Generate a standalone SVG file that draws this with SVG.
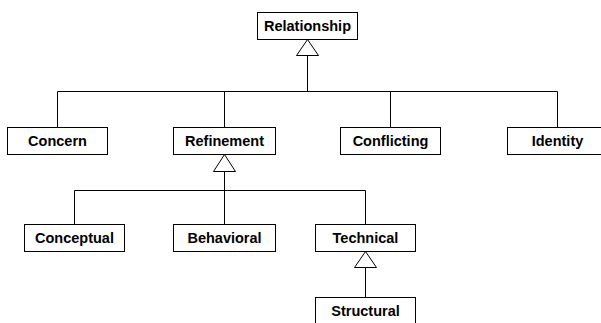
<svg xmlns="http://www.w3.org/2000/svg" width="601" height="323" viewBox="0 0 601 323">
<style>
.box{fill:#fff;stroke:#000;stroke-width:1}
.lbl{font-family:"Liberation Sans",Arial,sans-serif;font-weight:bold;font-size:14.5px;fill:#000;text-anchor:middle}
.con{fill:none;stroke:#000;stroke-width:1}
.tri{fill:#fff;stroke:#000;stroke-width:1}
</style>
<rect width="601" height="323" fill="#fff"/>
<g id="connectors">
<path class="con" d="M307.5 55.5V91.5M57.5 91.5H557.5M57.5 91.5V127.5M224.5 91.5V127.5M390.5 91.5V127.5M557.5 91.5V127.5"/>
<path class="con" d="M224.5 171.5V224.5M74.5 190.5H365.5M74.5 190.5V224.5M365.5 190.5V224.5"/>
<path class="con" d="M365.5 267.5V297.5"/>
<polygon class="tri" points="307.5,39.5 296.5,55.5 318.5,55.5"/>
<polygon class="tri" points="224.5,154.5 213.5,171.5 235.5,171.5"/>
<polygon class="tri" points="365.5,251.5 354.5,267.5 376.5,267.5"/>
</g>
<g id="relationship"><rect class="box" x="257.5" y="12.5" width="100" height="27"/><text class="lbl" x="307.5" y="31">Relationship</text></g>
<g id="concern"><rect class="box" x="7.5" y="127.5" width="100" height="27"/><text class="lbl" x="57.5" y="146">Concern</text></g>
<g id="refinement"><rect class="box" x="173.5" y="127.5" width="102" height="27"/><text class="lbl" x="224.5" y="146">Refinement</text></g>
<g id="conflicting"><rect class="box" x="340.5" y="127.5" width="100" height="27"/><text class="lbl" x="390.5" y="146">Conflicting</text></g>
<g id="identity"><rect class="box" x="507.5" y="127.5" width="100" height="27"/><text class="lbl" x="557.5" y="146">Identity</text></g>
<g id="conceptual"><rect class="box" x="24.5" y="224.5" width="100" height="27"/><text class="lbl" x="74.5" y="243">Conceptual</text></g>
<g id="behavioral"><rect class="box" x="173.5" y="224.5" width="102" height="27"/><text class="lbl" x="224.5" y="243">Behavioral</text></g>
<g id="technical"><rect class="box" x="315.5" y="224.5" width="100" height="27"/><text class="lbl" x="365.5" y="243">Technical</text></g>
<g id="structural"><rect class="box" x="315.5" y="297.5" width="100" height="27"/><text class="lbl" x="365.5" y="316">Structural</text></g>
</svg>
